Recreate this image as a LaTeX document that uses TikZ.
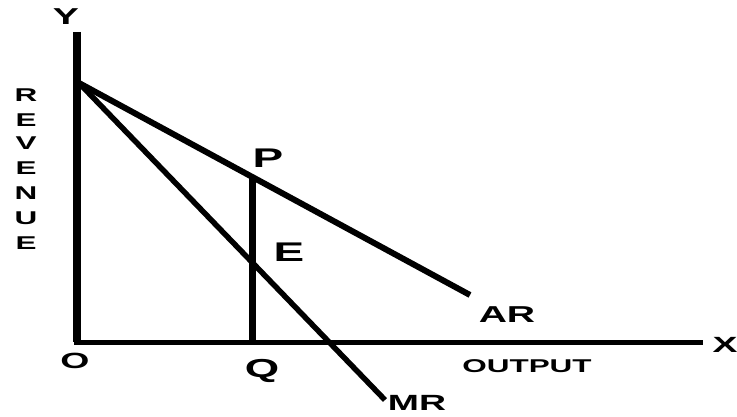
\documentclass[tikz,border=0pt]{standalone}
\usepackage{fontspec}
\setmainfont{Liberation Sans}
\begin{document}
\begin{tikzpicture}[x=1pt,y=-1pt,
  lbl/.style={inner sep=0pt,xscale=1.7,font=\bfseries\fontsize{#1}{#1}\selectfont},
  heavy/.style={line width=6pt,black}]
\useasboundingbox[fill=white] (0,0) rectangle (737,417);
% points
\coordinate (Ytop) at (77,32);
\coordinate (O) at (77,342);
\coordinate (Xend) at (703,342);
\coordinate (S) at (79,83);
\coordinate (ARend) at (470,295);
\coordinate (MRend) at (385,400);
\coordinate (P) at (252,177);
\coordinate (Q) at (252,342);
% axes
\draw[heavy,line width=7.5pt] (Ytop) -- (O);
\draw[black,line width=5pt] ([xshift=-3.5pt]O) -- (Xend);
% curves
\draw[heavy] (S) -- (ARend);
\draw[heavy,line width=5.5pt] (S) -- (MRend);
\draw[heavy,line width=7pt] (P) -- (Q);
% labels
\node[lbl=23] (ly) at (66,17) {Y};
\node[lbl=22] (lx) at (725,345) {X};
\node[lbl=22] (lo) at (75,361) {O};
\node[lbl=26] (lq) at (262,371) {Q};
\node[lbl=27] (lp) at (268,158) {P};
\node[lbl=27] (le) at (289,252) {E};
\node[lbl=23] (lar) at (507,315) {AR};
\node[lbl=22] (lmr) at (417,403) {MR};
\node[lbl=18.5] (lout) at (527,366) {OUTPUT};
\node[lbl=18.5] (r1) at (26,95) {R};
\node[lbl=18.5] (r2) at (26,120) {E};
\node[lbl=18.5] (r3) at (26,143) {V};
\node[lbl=18.5] (r4) at (26,168) {E};
\node[lbl=18.5] (r5) at (26,193) {N};
\node[lbl=18.5] (r6) at (26,218) {U};
\node[lbl=18.5] (r7) at (26,243) {E};
\end{tikzpicture}
\end{document}
